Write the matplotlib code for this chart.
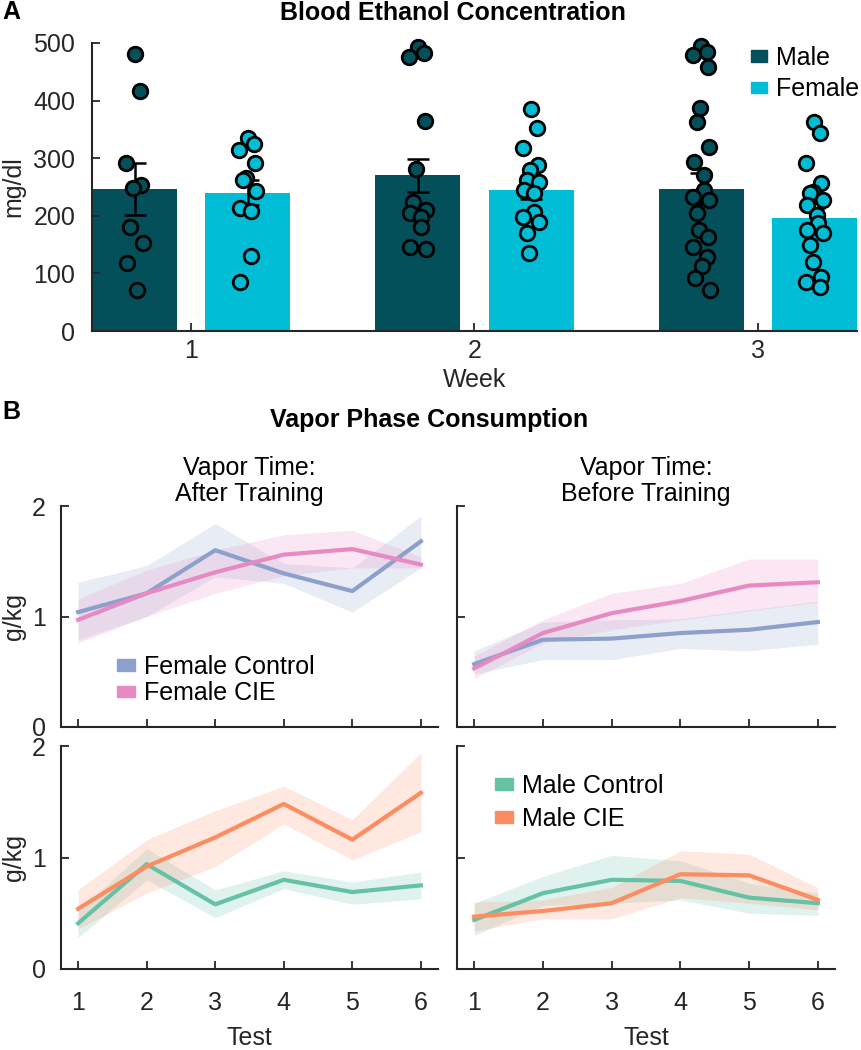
import matplotlib
matplotlib.use('Agg')
import matplotlib.pyplot as plt
from matplotlib.patches import Patch
import numpy as np

plt.rcParams['font.family'] = ['Liberation Sans', 'DejaVu Sans']
plt.rcParams['font.size'] = 18

# ---- Panel A: blood ethanol concentration ----
weeks = [1, 2, 3]
male_mean = [246, 270, 247]
male_sem = [45, 29, 27]
female_mean = [240, 244, 196]
female_sem = [22, 15, 17]

male_pts = [
    [481, 417, 292, 253, 248, 181, 153, 118, 71],
    [493, 482, 476, 364, 281, 224, 210, 205, 198, 181, 146, 142],
    [494, 485, 479, 459, 387, 363, 320, 294, 271, 245, 233, 228, 205, 175, 164, 146, 129, 112, 92, 71],
]
female_pts = [
    [335, 325, 315, 292, 265, 262, 243, 213, 208, 130, 85],
    [385, 352, 317, 288, 279, 262, 259, 245, 240, 207, 198, 190, 170, 135],
    [363, 344, 291, 257, 242, 240, 228, 219, 201, 187, 175, 170, 149, 120, 94, 85, 77],
]

# ---- Panel B: vapor phase consumption (mean, lower, upper) ----
tests = [1, 2, 3, 4, 5, 6]
# after training
fc_after = [1.04, 1.21, 1.60, 1.39, 1.23, 1.68]
fc_after_lo = [0.79, 1.00, 1.36, 1.30, 1.04, 1.44]
fc_after_hi = [1.31, 1.46, 1.84, 1.48, 1.44, 1.91]
fcie_after = [0.97, 1.21, 1.40, 1.56, 1.61, 1.47]
fcie_after_lo = [0.76, 1.00, 1.21, 1.37, 1.44, 1.44]
fcie_after_hi = [1.16, 1.42, 1.60, 1.74, 1.78, 1.54]
mc_after = [0.41, 0.94, 0.58, 0.80, 0.69, 0.75]
mc_after_lo = [0.28, 0.80, 0.46, 0.72, 0.58, 0.63]
mc_after_hi = [0.52, 1.08, 0.71, 0.88, 0.78, 0.87]
mcie_after = [0.54, 0.92, 1.18, 1.48, 1.16, 1.58]
mcie_after_lo = [0.36, 0.68, 0.92, 1.30, 0.98, 1.23]
mcie_after_hi = [0.71, 1.16, 1.42, 1.64, 1.34, 1.94]
# before training
fc_before = [0.57, 0.79, 0.80, 0.85, 0.88, 0.95]
fc_before_lo = [0.48, 0.61, 0.61, 0.71, 0.69, 0.75]
fc_before_hi = [0.69, 0.95, 0.97, 0.98, 1.06, 1.14]
fcie_before = [0.53, 0.85, 1.03, 1.14, 1.28, 1.31]
fcie_before_lo = [0.44, 0.76, 0.88, 0.97, 1.05, 1.13]
fcie_before_hi = [0.64, 0.97, 1.21, 1.30, 1.52, 1.52]
mc_before = [0.44, 0.68, 0.80, 0.79, 0.64, 0.59]
mc_before_lo = [0.30, 0.57, 0.59, 0.62, 0.50, 0.48]
mc_before_hi = [0.59, 0.83, 1.02, 0.97, 0.77, 0.68]
mcie_before = [0.47, 0.52, 0.59, 0.85, 0.84, 0.62]
mcie_before_lo = [0.34, 0.45, 0.45, 0.64, 0.59, 0.53]
mcie_before_hi = [0.60, 0.62, 0.73, 1.06, 1.03, 0.73]

c_male = '#03505a'
c_female = '#00bcd4'
c_fc = '#8da0cb'
c_fcie = '#e78ac3'
c_mc = '#66c2a5'
c_mcie = '#fc8d62'
axcol = '#262626'
FS = 18

W, H = 862, 1050
fig = plt.figure(figsize=(W / 100, H / 100), dpi=100)


def box(l, t, r, b):
    return [l / W, 1 - b / H, (r - l) / W, (b - t) / H]


def style(ax):
    for s in ['top', 'right']:
        ax.spines[s].set_visible(False)
    for s in ['left', 'bottom']:
        ax.spines[s].set_color(axcol)
        ax.spines[s].set_linewidth(1.5)
    ax.tick_params(direction='in', colors=axcol, width=1.3, length=6, labelsize=FS)


# panel A
axA = fig.add_axes(box(92, 43, 857, 331))
style(axA)
x = np.array(weeks)
bw = 0.30
off = 0.20
axA.bar(x - off, male_mean, width=bw, color=c_male, zorder=1)
axA.bar(x + off, female_mean, width=bw, color=c_female, zorder=1)
axA.errorbar(x - off, male_mean, yerr=male_sem, fmt='none', ecolor='black',
             elinewidth=1.8, capsize=8, capthick=1.8, zorder=3)
axA.errorbar(x + off, female_mean, yerr=female_sem, fmt='none', ecolor='black',
             elinewidth=1.8, capsize=8, capthick=1.8, zorder=3)
for i, w in enumerate(weeks):
    for pts, xc, col in [(male_pts[i], w - off, c_male), (female_pts[i], w + off, c_female)]:
        n = len(pts)
        jit = 0.03 * np.sin(np.arange(n) * 2.4)
        axA.scatter(xc + jit, pts, s=110, facecolor=col, edgecolor='black',
                    linewidth=2, zorder=4, clip_on=False)
axA.set_xlim(0.65, 3.35)
axA.set_ylim(0, 500)
axA.set_xticks(weeks)
axA.set_yticks(range(0, 501, 100))
axA.tick_params(axis='y', pad=12)
axA.tick_params(axis='x', pad=6)
axA.set_xlabel('Week', fontsize=FS, color=axcol, labelpad=3)
axA.set_ylabel('mg/dl', fontsize=FS, color=axcol, labelpad=6)
axA.legend(handles=[Patch(color=c_male, label='Male'), Patch(color=c_female, label='Female')],
           loc='upper left', bbox_to_anchor=(751 / W, 1 - 46 / H),
           bbox_transform=fig.transFigure, frameon=False, fontsize=FS,
           handlelength=0.65, handleheight=0.35, handletextpad=0.35,
           labelspacing=0.3, borderpad=0, borderaxespad=0)

fig.text(2 / W, 1 - 12 / H, 'A', fontsize=FS, fontweight='bold', va='center', ha='left')
fig.text(453 / W, 1 - 13 / H, 'Blood Ethanol Concentration', fontsize=FS,
         fontweight='bold', ha='center', va='center')
fig.text(2 / W, 1 - 412 / H, 'B', fontsize=FS, fontweight='bold', va='center', ha='left')
fig.text(429 / W, 1 - 420 / H, 'Vapor Phase Consumption', fontsize=FS,
         fontweight='bold', ha='center', va='center')

# panel B
axes_pos = {
    (0, 0): box(61, 506, 438, 727),
    (0, 1): box(457, 506, 835, 727),
    (1, 0): box(61, 746, 438, 969),
    (1, 1): box(457, 746, 835, 969),
}
series = {
    (0, 0): [(fc_after, fc_after_lo, fc_after_hi, c_fc, 'Female Control'),
             (fcie_after, fcie_after_lo, fcie_after_hi, c_fcie, 'Female CIE')],
    (0, 1): [(fc_before, fc_before_lo, fc_before_hi, c_fc, 'Female Control'),
             (fcie_before, fcie_before_lo, fcie_before_hi, c_fcie, 'Female CIE')],
    (1, 0): [(mc_after, mc_after_lo, mc_after_hi, c_mc, 'Male Control'),
             (mcie_after, mcie_after_lo, mcie_after_hi, c_mcie, 'Male CIE')],
    (1, 1): [(mc_before, mc_before_lo, mc_before_hi, c_mc, 'Male Control'),
             (mcie_before, mcie_before_lo, mcie_before_hi, c_mcie, 'Male CIE')],
}
for (r, c), pos in axes_pos.items():
    ax = fig.add_axes(pos)
    style(ax)
    for m, lo, hi, col, lab in series[(r, c)]:
        ax.fill_between(tests, lo, hi, color=col, alpha=0.2, linewidth=0)
        ax.plot(tests, m, color=col, linewidth=3, label=lab)
    ax.set_xlim(0.75, 6.25)
    ax.set_ylim(0, 2)
    ax.set_xticks(tests)
    ax.set_yticks([0, 1, 2])
    ax.tick_params(axis='x', pad=16)
    ax.tick_params(axis='y', pad=11)
    if r == 0:
        ax.tick_params(axis='x', labelbottom=False)
    else:
        ax.set_xlabel('Test', fontsize=FS, color=axcol, labelpad=8)
    if c == 1:
        ax.tick_params(axis='y', labelleft=False)
    else:
        ax.set_ylabel('g/kg', fontsize=FS, color=axcol, labelpad=4)
    if (r, c) == (0, 0):
        ax.set_title('Vapor Time:\nAfter Training', fontsize=FS, pad=3, linespacing=1.1)
    if (r, c) == (0, 1):
        ax.set_title('Vapor Time:\nBefore Training', fontsize=FS, pad=3, linespacing=1.1)
    hnd = [Patch(color=s[3], label=s[4]) for s in series[(r, c)]]
    if (r, c) == (0, 0):
        ax.legend(handles=hnd, loc='upper left', bbox_to_anchor=(117 / W, 1 - 655 / H),
                  bbox_transform=fig.transFigure, frameon=False, fontsize=FS,
                  handlelength=0.7, handleheight=0.35, handletextpad=0.4,
                  labelspacing=0.1, borderpad=0, borderaxespad=0)
    if (r, c) == (1, 1):
        ax.legend(handles=hnd, loc='upper left', bbox_to_anchor=(495 / W, 1 - 774 / H),
                  bbox_transform=fig.transFigure, frameon=False, fontsize=FS,
                  handlelength=0.7, handleheight=0.35, handletextpad=0.4,
                  labelspacing=0.35, borderpad=0, borderaxespad=0)

fig.savefig('out.png', dpi=100)
